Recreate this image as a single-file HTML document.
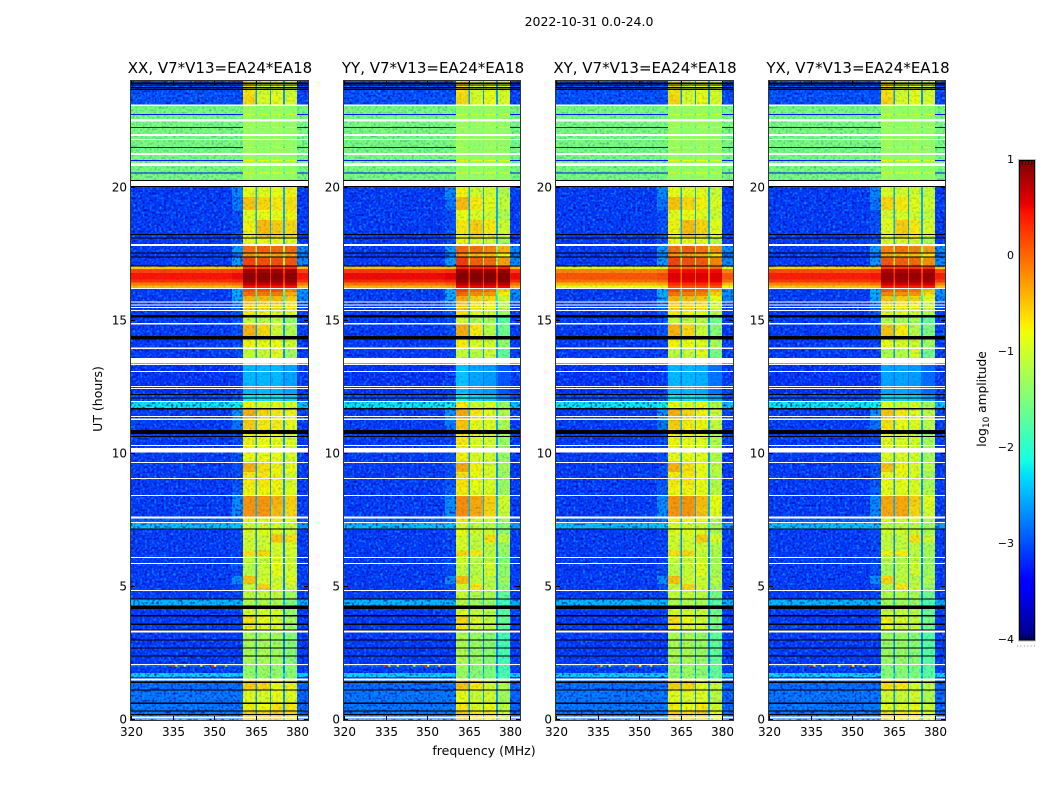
<!DOCTYPE html>
<html lang="en">
<head>
<meta charset="utf-8">
<title>2022-10-31 0.0-24.0 amplitude spectrogram</title>
<style>
  html, body { margin: 0; padding: 0; background: #fff; }
  svg { display: block; font-family: "DejaVu Sans", "Liberation Sans", sans-serif; fill: #000; }
</style>
</head>
<body>
<svg id="figure" xmlns="http://www.w3.org/2000/svg" width="1050" height="800" viewBox="0 0 1050 800">
  <defs>
    <filter id="speckle-light" x="0" y="0" width="1" height="1" color-interpolation-filters="sRGB">
      <feTurbulence type="fractalNoise" baseFrequency="0.42" numOctaves="1" seed="4"/>
      <feColorMatrix type="matrix" values="0 0 0 0 0  0 0 0 0 0.65  0 0 0 0 1  2.6 0 0 0 -1.25"/>
    </filter>
    <filter id="speckle-dark" x="0" y="0" width="1" height="1" color-interpolation-filters="sRGB">
      <feTurbulence type="fractalNoise" baseFrequency="0.42" numOctaves="1" seed="11"/>
      <feColorMatrix type="matrix" values="0 0 0 0 0  0 0 0 0 0  0 0 0 0 0.6  2.6 0 0 0 -1.25"/>
    </filter>
  </defs>
  <text x="589" y="26" font-size="12.5" text-anchor="middle">2022-10-31 0.0-24.0</text>
  <text x="484" y="755" font-size="12.5" text-anchor="middle">frequency (MHz)</text>
  <text transform="translate(102 399) rotate(-90)" font-size="12.5" text-anchor="middle">UT (hours)</text>
  <text transform="translate(986 399) rotate(-90)" font-size="12.2" text-anchor="middle">log<tspan font-size="9" dy="3">10</tspan><tspan dy="-3"> amplitude</tspan></text>
  <g id="panels"></g>
  <g id="colorbar"></g>
</svg>
<script>
// ---- Chart data ----
const panelTitles = ["XX, V7*V13=EA24*EA18", "YY, V7*V13=EA24*EA18", "XY, V7*V13=EA24*EA18", "YX, V7*V13=EA24*EA18"];
const xTicks = [320, 335, 350, 365, 380];
const yTicks = [0, 5, 10, 15, 20];
const colorbarTicks = [1, 0, -1, -2, -3, -4];

// frequency channels (MHz) and which level column each one reads
const channelEdges = [320, 356.5, 360.4, 364.9, 365.5, 370.1, 370.5, 374.9, 375.6, 380, 384];
const channelColumn = [0, 1, 2, 7, 3, 7, 4, 7, 5, 6];

// UT row edges (hours); levelRows has one row per interval
const utEdges = [0, .32, .61, 1.11, 1.47, 1.59, 1.74, 1.99, 2.05, 3.3, 3.58, 3.9, 4.15, 4.53, 4.87, 5.1, 5.4, 5.9, 6.15, 6.35, 6.65, 6.95, 7.16, 7.39, 7.56, 8, 8.4, 8.8, 9.3, 9.7, 10, 10.9, 11.25, 11.65, 11.97, 12.2, 13.36, 13.6, 13.95, 14.3, 14.85, 15.15, 15.4, 15.7, 15.92, 16.08, 16.22, 16.32, 16.42, 16.55, 16.78, 16.93, 17.03, 17.39, 17.53, 17.8, 18.1, 18.78, 19.15, 19.64, 20.02, 20.26, 20.52, 20.56, 21, 21.04, 21.49, 21.53, 22.24, 22.28, 22.73, 22.77, 23.1, 23.4, 24];

// log10 amplitude columns: 320-356.5, shoulder, sub-band 1-4, 380-384, sub-band gaps
const levelRows = [
  [-2.8,-2.8,-.55,-.6,-.55,-.6,-2.9,-2.6],
  [-2.8,-2.8,-.75,-.8,-.65,-.7,-2.9,-2.6],
  [-2.8,-2.8,-.85,-.9,-.8,-.85,-2.9,-2.6],
  [-2.85,-2.85,-.55,-.6,-.8,-.75,-2.9,-2.6],
  [-3.1,-3.1,-1.3,-1.3,-1.3,-1.4,-3.1,-2.7],
  [-2.3,-2.3,-1.3,-1.3,-1.3,-1.35,-2.3,-2.3],
  [-3.1,-3.1,-1.35,-1.3,-1.35,-1.4,-3.1,-2.7],
  [-2.7,-2.7,-1.2,-1.2,-1.2,-1.3,-2.9,-2.5],
  [-3.1,-3.1,-1.2,-1.2,-1.25,-1.4,-3.1,-2.7],
  [-3.1,-3.05,-.75,-.9,-.9,-1.25,-3.1,-2.7],
  [-3.1,-3.05,-.65,-.8,-.9,-1.2,-3.1,-2.7],
  [-3.1,-3.05,-.95,-.95,-.95,-1.3,-3.1,-2.7],
  [-2.45,-2.45,-1.15,-1.15,-1.15,-1.45,-2.5,-2.4],
  [-3.1,-3.05,-1.05,-1.05,-1.05,-1.25,-3.1,-2.7],
  [-3.1,-3.0,-1,-.6,-.9,-1,-3.1,-2.7],
  [-3.1,-2.7,-.5,-.95,-.95,-.85,-3.1,-2.7],
  [-3.1,-3.0,-1.1,-1,-.8,-.95,-3.1,-2.7],
  [-3.1,-3.05,-1,-1,-.9,-1,-3.1,-2.7],
  [-3.1,-3.05,-.65,-.6,-.95,-.9,-3.1,-2.7],
  [-3.1,-3.05,-.95,-.95,-.9,-.9,-3.1,-2.7],
  [-3.1,-3.05,-.95,-.95,-.5,-.65,-3.1,-2.7],
  [-3.1,-3.05,-.85,-.85,-.85,-.95,-3.1,-2.7],
  [-2.4,-2.35,-.95,-.95,-.95,-.95,-2.6,-2.2],
  [-2.9,-2.8,-.75,-.8,-.75,-.85,-3,-2.6],
  [-3.1,-2.7,-.25,-.25,-.45,-.6,-3.1,-2.5],
  [-3.1,-2.7,-.25,-.25,-.4,-.55,-3.1,-2.5],
  [-3.1,-2.9,-.75,-.75,-.75,-.85,-3.1,-2.6],
  [-3.1,-3,-.7,-.7,-.75,-.9,-3.1,-2.6],
  [-3.1,-3,-.4,-.65,-.75,-.8,-3.1,-2.6],
  [-3.1,-3,-.8,-.8,-.8,-.9,-3.1,-2.6],
  [-3.1,-3.05,-.75,-.8,-.8,-.9,-3.1,-2.6],
  [-3.1,-2.8,-.55,-.7,-.7,-.8,-3.1,-2.5],
  [-3.1,-2.65,-.4,-.6,-.7,-.75,-3.05,-2.5],
  [-2.2,-2.15,-.75,-.9,-.75,-.9,-2.4,-2.1],
  [-3,-2.9,-2.2,-2.2,-2.2,-2.3,-3,-2.6],
  [-3.15,-3.1,-2.45,-2.45,-2.45,-2.55,-3.1,-2.8],
  [-3.1,-3.05,-1.15,-1.15,-1.05,-1.35,-3.1,-2.6],
  [-3.1,-3.05,-1.05,-1,-.8,-1.25,-3.1,-2.6],
  [-3.1,-3.05,-.75,-.8,-.8,-.95,-3.1,-2.6],
  [-3.1,-3.0,-.4,-.6,-.95,-1.15,-3.1,-2.6],
  [-3.1,-3.0,-1.05,-1.1,-1.05,-1.3,-3.1,-2.6],
  [-3.1,-2.95,-.7,-.75,-.8,-.85,-3.05,-2.5],
  [-3.1,-2.8,-.55,-.6,-.6,-.7,-3,-2.4],
  [-3.1,-2.55,-.4,-.45,-.45,-.55,-2.75,-2.1],
  [-3.1,-2.5,-.05,-.1,-.1,-.35,-2.65,-1.8],
  [-3.1,-2.5,.15,.1,.1,-.15,-2.65,-1.6],
  [-.45,-.4,.45,.45,.45,.45,-.45,-.2],
  [-.1,0,.7,.7,.7,.7,-.1,.1],
  [.3,.35,.9,.9,.9,.9,.3,.3],
  [.45,.5,.95,.95,.95,.95,.45,.4],
  [.2,.25,.85,.85,.85,.85,.2,.25],
  [-.55,-.5,.35,.35,.35,.35,-.5,-.1],
  [-3.1,-2.6,.2,.15,.15,.1,-2.7,-1.2],
  [-3.1,-2.8,-.25,-.35,-.3,-.35,-2.85,-1.5],
  [-3.1,-2.6,-.05,.05,0,0,-2.7,-1.3],
  [-3.1,-3,-.8,-.8,-.8,-.85,-3.1,-2.5],
  [-3.1,-3,-.75,-.45,-.55,-.6,-3.1,-2.5],
  [-3.1,-3,-.85,-.8,-.8,-.75,-3.1,-2.5],
  [-3.1,-2.8,-.5,-.6,-.7,-.65,-3.1,-2.5],
  [-3.1,-2.7,-.8,-.85,-.8,-.75,-3.1,-2.5],
  [-1.5,-1.5,-1.3,-1.35,-1.3,-1.35,-1.5,-1.45],
  [-1.5,-1.5,-1.3,-1.35,-1.3,-1.35,-1.5,-1.45],
  [-3.3,-3.3,-.7,-.8,-.8,-.9,-3.3,-2.2],
  [-1.5,-1.5,-1.3,-1.35,-1.3,-1.35,-1.5,-1.45],
  [-3.3,-3.3,-.7,-.8,-.8,-.9,-3.3,-2.2],
  [-1.5,-1.5,-1.3,-1.35,-1.3,-1.35,-1.5,-1.45],
  [-3.3,-3.3,-.9,-.7,-.7,-.9,-3.3,-2.2],
  [-1.5,-1.5,-1.3,-1.35,-1.3,-1.35,-1.5,-1.45],
  [-3.3,-3.3,-.7,-.7,-.7,-.9,-3.3,-2.2],
  [-1.5,-1.5,-1.3,-1.35,-1.3,-1.35,-1.5,-1.45],
  [-3.3,-3.3,-1,-1,-1,-1,-3.3,-2.2],
  [-1.5,-1.5,-1.3,-1.35,-1.3,-1.35,-1.5,-1.45],
  [-3,-3,-.6,-.9,-.8,-.9,-3.05,-2.6],
  [-3,-3,-.65,-.95,-.85,-.95,-3.05,-2.6]
];

// per-polarisation level offsets: sub-bands 1-4 below 20 UT, and the 16-17 UT burst
const subBandOffsets = [[0,0,0,0], [.05,-.1,-.15,-.4], [0,0,-.05,-.25], [-.1,-.1,-.15,-.3]];
const burstOffsets = [0, .05, -.35, -.05];

// isolated bright pixels near 2 UT: [MHz, UT, level]
const interferenceSpikes = [[334.5,2.02,.3],[336,2.02,-.6],[339,2.02,-1],[345,2.02,-1.2],[349,2.02,.3],[350,2.02,-.8],[354,2.02,-.6]];

// unfilled integrations (white) and flagged integrations (black), hours [from, to]
const whiteBands = [[.045,.105],[1.47,1.55],[2.05,2.09],[3.28,3.35],[4.83,4.87],[5.85,5.88],[6.07,6.11],[7.39,7.42],[7.56,7.63],[8.4,8.44],[9.04,9.08],[9.64,9.68],[10.04,10.21],[10.28,10.32],[11.26,11.31],[11.37,11.41],[11.94,11.97],[12.44,12.47],[12.5,12.54],[13.06,13.1],[13.33,13.36],[13.38,13.59],[13.93,13.98],[14.85,14.91],[15.36,15.39],[15.47,15.51],[15.56,15.6],[15.68,15.71],[16.18,16.22],[17.81,17.88],[20.06,20.24],[20.81,20.93],[21.22,21.29],[21.79,21.82],[21.94,22.01],[22.49,22.57],[23.06,23.12]];
const blackBands = [[.17,.21],[.3,.34],[.59,.63],[1.09,1.13],[1.38,1.42],[2.37,2.41],[2.66,2.7],[2.97,3.01],[3.34,3.38],[3.56,3.6],[3.88,3.92],[4.15,4.29],[4.51,4.55],[7.14,7.18],[10.62,10.66],[10.73,10.88],[11.65,11.71],[12.06,12.1],[12.19,12.23],[14.29,14.42],[15.12,15.2],[17.03,17.07],[17.37,17.41],[17.51,17.55],[18.08,18.12],[18.21,18.25],[20.02,20.06],[20.24,20.28],[23.67,23.71],[23.73,23.77],[23.83,23.87],[23.9,23.94]];

// ---- Layout and scales ----
const NS = "http://www.w3.org/2000/svg";
const panelLefts = [131, 344, 556, 769];
const panelWidths = [177, 176, 177, 176];
const plotTop = 81, plotBottom = 720, hourPx = 26.6, mhzPx = 2.77;
const xScale = (panel, mhz) => panelLefts[panel] + (mhz - 320) * mhzPx;
const yScale = (hour) => 719.5 - hour * hourPx;
const colorbarScale = (level) => 640 - (level + 4) * 96;

// texture strength by UT window (style only): full on the quiet blue rows, faint on bright rows
const textureWindows = [[0, 16.22, 1], [16.22, 17.03, .15], [17.03, 20.26, 1], [20.26, 23.1, .3], [23.1, 24, 1]];

function ramp(t, pts) {
  for (let i = 1; i < pts.length; i++) {
    if (t <= pts[i][0]) {
      const a = pts[i - 1], b = pts[i];
      return a[1] + (b[1] - a[1]) * (t - a[0]) / (b[0] - a[0]);
    }
  }
  return pts[pts.length - 1][1];
}
function jet(level) {
  const t = Math.max(0, Math.min(1, (level + 4) / 5));
  const r = ramp(t, [[0,0],[.35,0],[.66,1],[.89,1],[1,.5]]);
  const g = ramp(t, [[0,0],[.125,0],[.375,1],[.64,1],[.91,0],[1,0]]);
  const b = ramp(t, [[0,.5],[.11,1],[.34,1],[.65,0],[1,0]]);
  return "rgb(" + Math.round(r * 255) + "," + Math.round(g * 255) + "," + Math.round(b * 255) + ")";
}
function make(parent, tag, attrs) {
  const el = document.createElementNS(NS, tag);
  for (const k in attrs) el.setAttribute(k, attrs[k]);
  parent.appendChild(el);
  return el;
}

function levelFor(panel, row, col) {
  const mid = (utEdges[row] + utEdges[row + 1]) / 2;
  const base = levelRows[row][col];
  if (mid > 16.22 && mid < 17.03) return base + burstOffsets[panel];
  if (mid < 20.02 && col >= 2 && col <= 5) return base + subBandOffsets[panel][col - 2];
  return base;
}

const panelsRoot = document.getElementById("panels");
panelTitles.forEach(function (title, p) {
  const left = panelLefts[p];
  const plotWidth = panelWidths[p];
  const right = left + plotWidth;
  const g = make(panelsRoot, "g", {});
  
  

  const cells = make(g, "g", { "shape-rendering": "crispEdges" });
  
  
  levelRows.forEach(function (_, r) {
    channelColumn.forEach(function (col, c) {
      const x0 = xScale(p, channelEdges[c]);
      const x1 = Math.min(right, xScale(p, channelEdges[c + 1]));
      const y0 = yScale(utEdges[r + 1]);
      const y1 = yScale(utEdges[r]);
      const cell = make(cells, "rect", { x: x0, y: y0, width: x1 - x0, height: y1 - y0, fill: jet(levelFor(p, r, col)) });
      
      
    });
  });

  // decorative receiver-noise texture, not data: strong off-band, faint across the yellow band
  ["speckle-light", "speckle-dark"].forEach(function (id) {
    const inBandStart = xScale(p, 360.4);
    const inBandEnd = xScale(p, 380);
    [[left, inBandStart, 1], [inBandStart, inBandEnd, .22], [inBandEnd, right, 1]].forEach(function (seg) {
      textureWindows.forEach(function (w) {
        const top = Math.round(yScale(w[1]));
        const bottom = Math.round(yScale(w[0]));
        const noise = make(g, "rect", { x: seg[0], y: top, width: seg[1] - seg[0], height: bottom - top, filter: "url(#" + id + ")", opacity: seg[2] * w[2] });
        
        
      });
    });
  });

  interferenceSpikes.forEach(function (s) {
    const spike = make(g, "rect", { x: xScale(p, s[0]), y: yScale(s[1]) - 1, width: 2.2, height: 2, fill: jet(s[2]) });
    
    
  });

  const flags = make(g, "g", { "shape-rendering": "crispEdges" });
  
  
  [[whiteBands, "#fff", "white-band"], [blackBands, "#000", "black-band"]].forEach(function (set) {
    set[0].forEach(function (b) {
      const y0 = yScale(b[1]);
      const h = Math.max(1, yScale(b[0]) - y0);
      const band = make(flags, "rect", { x: left, y: y0, width: plotWidth, height: h, fill: set[1] });
      
      
    });
  });

  const frame = make(g, "rect", { x: left - .5, y: plotTop - .5, width: plotWidth + 1, height: plotBottom - plotTop + 1, fill: "none", stroke: "#333", "stroke-width": 1 });
  
  

  const titleEl = make(g, "text", { x: left + 89, y: 73, "font-size": 15, "text-anchor": "middle" });
  titleEl.textContent = title;
  
  

  xTicks.forEach(function (t) {
    const x = Math.round(xScale(p, t)) + .5;
    [[plotBottom, plotBottom - 4], [plotTop, plotTop + 4]].forEach(function (e) {
      const tick = make(g, "line", { x1: x, x2: x, y1: e[0], y2: e[1], stroke: "#000", "stroke-width": 1 });
      
      
    });
    const lab = make(g, "text", { x: x, y: 736, "font-size": 12, "text-anchor": "middle" });
    lab.textContent = t;
    
    
  });
  yTicks.forEach(function (t) {
    const y = Math.round(yScale(t)) - .5;
    [[left, left + 4], [right, right - 4]].forEach(function (e) {
      const tick = make(g, "line", { x1: e[0], x2: e[1], y1: y, y2: y, stroke: "#000", "stroke-width": 1 });
      
      
    });
    const lab = make(g, "text", { x: left - 4, y: y + 4, "font-size": 12, "text-anchor": "end" });
    lab.textContent = t;
    
    
  });
});

// ---- Colorbar ----
const cbarRoot = document.getElementById("colorbar");
const cbarLeft = 1019, cbarWidth = 16;
const cbarSteps = make(cbarRoot, "g", { "shape-rendering": "crispEdges" });


for (let i = 0; i < 240; i++) {
  const lv = -4 + (i + .5) * 5 / 240;
  const step = make(cbarSteps, "rect", { x: cbarLeft, y: colorbarScale(lv) - 1, width: cbarWidth, height: 2.5, fill: jet(lv) });
  
  
}
const cbarFrame = make(cbarRoot, "rect", { x: cbarLeft + .5, y: 160.5, width: cbarWidth - 1, height: 479.5, fill: "none", stroke: "#000", "stroke-width": 1 });


const cbarOutline = make(cbarRoot, "rect", { x: cbarLeft - .5, y: 159.5, width: cbarWidth + 1, height: 481.5, fill: "none", stroke: "#bbb", "stroke-width": 1 });


for (let i = 1; i < 5; i++) {
  const x = cbarLeft + i * cbarWidth / 5;
  const topTick = make(cbarRoot, "line", { x1: x, x2: x, y1: 161, y2: 165, stroke: "#000", "stroke-width": .8 });
  
  
  const botTick = make(cbarRoot, "line", { x1: x, x2: x, y1: 639, y2: 635, stroke: "#000", "stroke-width": .8 });
  
  
}
const dots = make(cbarRoot, "line", { x1: 1017, x2: 1036, y1: 646, y2: 646, stroke: "#888", "stroke-width": 1, "stroke-dasharray": "1 2.4" });


colorbarTicks.forEach(function (v) {
  const lab = make(cbarRoot, "text", { x: 1014, y: colorbarScale(v) + 3, "font-size": 11, "text-anchor": "end" });
  lab.textContent = String(v).replace("-", "\u2212");
  
  
});
</script>
</body>
</html>
